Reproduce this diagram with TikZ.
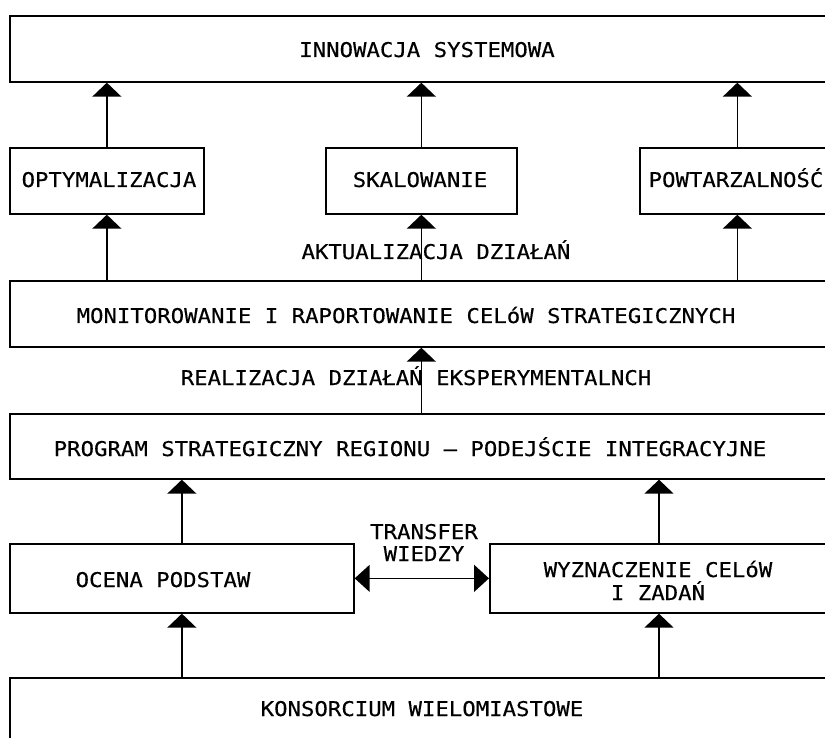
\documentclass[tikz,border=0pt]{standalone}
\usepackage{fontspec}
% narrow stroke-like lettering for all labels
\newfontfamily\cadfont[FakeStretch=1.1,FakeBold=0.35]{DejaVu Sans Mono}
\usetikzlibrary{arrows.meta}
\begin{document}
\begin{tikzpicture}[x=1pt,y=-1pt,
  box/.style={draw, line width=1.7pt, inner sep=0pt, anchor=north west},
  lbl/.style={font=\cadfont\fontsize{20.3}{24}\selectfont, inner sep=0pt, anchor=base, text=black},
  arr/.style={line width=1.5pt, -{Triangle[length=14pt,width=29pt]}},
  dbl/.style={line width=1.5pt, {Triangle[length=15pt,width=27pt]}-{Triangle[length=15pt,width=27pt]}},
  ]
\clip (0,0) rectangle (825,738);
\fill[white] (0,0) rectangle (825,738);

% boxes (the wide ones run past the right edge)
\node[box, minimum width=851pt, minimum height=66pt] (top)   at (9,15)  {};
\node[box, minimum width=194pt, minimum height=66pt] (opt)   at (9,147) {};
\node[box, minimum width=191pt, minimum height=66pt] (ska)   at (325,147) {};
\node[box, minimum width=195pt, minimum height=66pt] (pow)   at (639,147) {};
\node[box, minimum width=851pt, minimum height=66pt] (mon)   at (9,280) {};
\node[box, minimum width=851pt, minimum height=65pt] (prog)  at (9,413) {};
\node[box, minimum width=344pt, minimum height=69pt] (ocena) at (9,543) {};
\node[box, minimum width=371pt, minimum height=69pt] (wyzn)  at (489,543) {};
\node[box, minimum width=851pt, minimum height=80pt] (kons)  at (9,677) {};

% texts
\node[lbl] (t-top)   at (427,57)  {INNOWACJA SYSTEMOWA};
\node[lbl] (t-opt)   at (109,187) {OPTYMALIZACJA};
\node[lbl] (t-ska)   at (420,187) {SKALOWANIE};
\node[lbl] (t-pow)   at (736,187) {POWTARZALNOŚĆ};
\node[lbl] (t-akt)   at (436,259) {AKTUALIZACJA DZIAŁAŃ};
\node[lbl] (t-mon)   at (406,323) {MONITOROWANIE I RAPORTOWANIE CELóW STRATEGICZNYCH};
\node[lbl] (t-real)  at (416,385) {REALIZACJA DZIAŁAŃ EKSPERYMENTALNCH};
\node[lbl] (t-prog)  at (410,456) {PROGRAM STRATEGICZNY REGIONU – PODEJŚCIE INTEGRACYJNE};
\node[lbl] (t-trf1)  at (424,539) {TRANSFER};
\node[lbl] (t-trf2)  at (424,561) {WIEDZY};
\node[lbl] (t-ocena) at (163,587) {OCENA PODSTAW};
\node[lbl] (t-wyz1)  at (658,577) {WYZNACZENIE CELóW};
\node[lbl] (t-wyz2)  at (658,600) {I ZADAŃ};
\node[lbl] (t-kons)  at (422,716) {KONSORCIUM WIELOMIASTOWE};

% connectors
\coordinate (wx) at (659,0);
\draw[arr] (opt.north) -- (opt.north |- top.south);
\draw[arr] (ska.north) -- (ska.north |- top.south);
\draw[arr] (pow.north) -- (pow.north |- top.south);
\draw[arr] (mon.north -| opt.south) -- (opt.south);
\draw[arr] (mon.north -| ska.south) -- (ska.south);
\draw[arr] (mon.north -| pow.south) -- (pow.south);
\draw[arr] (prog.north -| ska.south) -- (mon.south -| ska.south);
\draw[arr] (ocena.north) -- (ocena.north |- prog.south);
\draw[arr] (wyzn.north -| wx) -- (prog.south -| wx);
\draw[arr] (kons.north -| ocena.south) -- (ocena.south);
\draw[arr] (kons.north -| wx) -- (wyzn.south -| wx);
\draw[dbl] (ocena.east) -- (wyzn.west);
\end{tikzpicture}
\end{document}
